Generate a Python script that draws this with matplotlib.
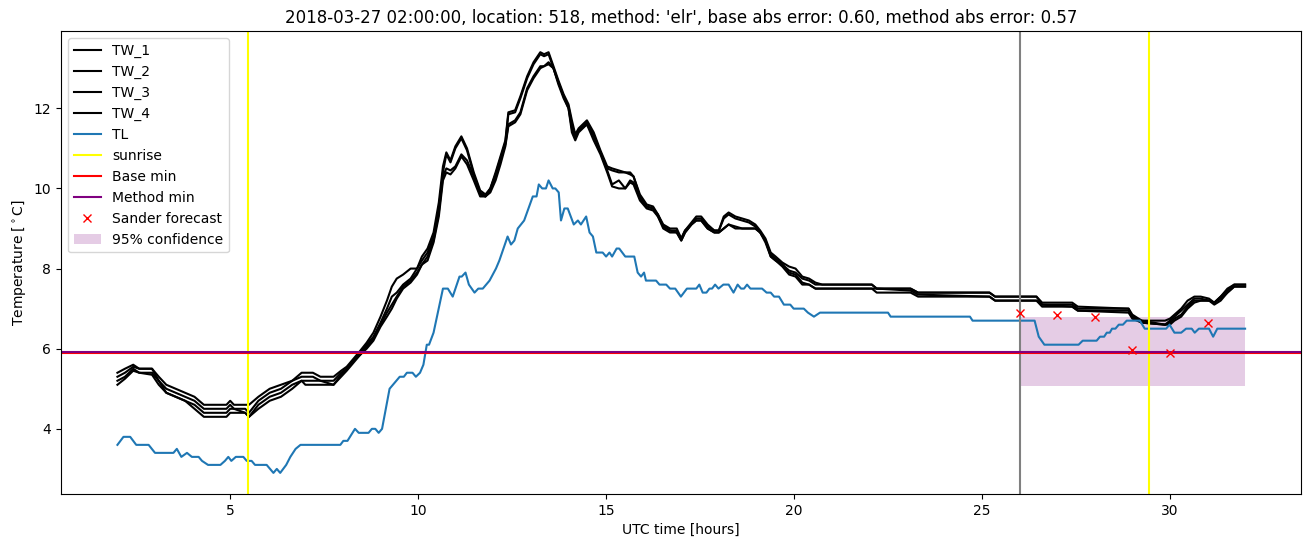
import numpy as np
import matplotlib
matplotlib.use("Agg")
import matplotlib.pyplot as plt

# TL (blue) breakpoints
tl_hours = [2.00, 2.16, 2.34, 2.50, 2.83, 3.00, 3.49, 3.58, 3.70, 3.85, 3.98, 4.16, 4.25, 4.41,
            4.74, 4.86, 4.95, 5.03, 5.15, 5.35, 5.44, 5.57, 5.66, 5.97, 6.15, 6.24, 6.33, 6.49,
            6.60, 6.74, 6.87, 7.93, 8.01, 8.12, 8.32, 8.42, 8.68, 8.77, 8.86, 8.95, 9.04, 9.24,
            9.33, 9.51, 9.62, 9.70, 9.85, 9.94, 10.05, 10.14, 10.23, 10.29, 10.41, 10.66, 10.79,
            10.92, 11.10, 11.16, 11.26, 11.35, 11.50, 11.60, 11.72, 11.90, 12.07, 12.16, 12.38,
            12.47, 12.56, 12.65, 12.82, 13.05, 13.15, 13.21, 13.30, 13.40, 13.47, 13.58, 13.65,
            13.74, 13.80, 13.89, 13.98, 14.14, 14.25, 14.33, 14.47, 14.56, 14.65, 14.74, 14.91,
            15.00, 15.09, 15.16, 15.28, 15.35, 15.51, 15.75, 15.84, 15.93, 16.01, 16.06, 16.33,
            16.42, 16.60, 16.70, 16.84, 16.99, 17.15, 17.40, 17.48, 17.57, 17.67, 17.75, 17.82,
            17.90, 17.99, 18.12, 18.26, 18.39, 18.50, 18.59, 18.67, 18.75, 18.84, 19.15, 19.27,
            19.38, 19.47, 19.60, 19.73, 19.90, 19.99, 20.26, 20.37, 20.53, 20.69, 22.50, 22.57,
            24.68, 24.75, 26.40, 26.51, 26.66, 27.57, 27.68, 28.05, 28.14, 28.25, 28.32, 28.40,
            28.46, 28.55, 28.64, 28.75, 28.85, 29.20, 29.33, 29.90, 29.99, 30.12, 30.30, 30.43,
            30.58, 30.66, 30.77, 31.04, 31.15, 31.26, 32.00]
tl_values = [3.6, 3.8, 3.8, 3.6, 3.6, 3.4, 3.4, 3.5, 3.3, 3.4, 3.3, 3.3, 3.2, 3.1,
             3.1, 3.2, 3.3, 3.2, 3.3, 3.3, 3.2, 3.2, 3.1, 3.1, 2.9, 3.0, 2.9, 3.1,
             3.3, 3.5, 3.6, 3.6, 3.7, 3.7, 4.0, 3.9, 3.9, 4.0, 4.0, 3.9, 4.0, 5.0,
             5.1, 5.3, 5.3, 5.4, 5.4, 5.3, 5.4, 5.6, 6.1, 6.1, 6.4, 7.5, 7.5,
             7.3, 7.8, 7.8, 7.9, 7.6, 7.4, 7.5, 7.5, 7.7, 8.0, 8.2, 8.8,
             8.6, 8.7, 9.0, 9.2, 9.8, 9.8, 10.1, 10.0, 10.0, 10.2, 10.0, 10.0,
             9.9, 9.2, 9.5, 9.5, 9.1, 9.2, 9.1, 9.3, 8.9, 8.8, 8.4, 8.4,
             8.3, 8.4, 8.3, 8.5, 8.5, 8.3, 8.3, 7.9, 7.8, 7.9, 7.7, 7.7,
             7.6, 7.6, 7.5, 7.5, 7.3, 7.5, 7.5, 7.6, 7.4, 7.4, 7.5, 7.5,
             7.6, 7.5, 7.6, 7.6, 7.4, 7.6, 7.5, 7.5, 7.6, 7.5, 7.5, 7.4,
             7.4, 7.3, 7.3, 7.1, 7.1, 7.0, 7.0, 6.9, 6.8, 6.9, 6.9, 6.8,
             6.8, 6.7, 6.7, 6.3, 6.1, 6.1, 6.2, 6.2, 6.3, 6.3, 6.4, 6.4,
             6.5, 6.5, 6.6, 6.6, 6.7, 6.7, 6.5, 6.5, 6.6, 6.4, 6.4, 6.5,
             6.5, 6.4, 6.5, 6.5, 6.3, 6.5, 6.5]

# TW sensors (black), shared breakpoint hours
tw_hours = [2.00, 2.20, 2.42, 2.58, 2.92, 3.10, 3.30, 3.55, 3.80, 4.05, 4.30, 4.60, 4.90, 5.00,
            5.10, 5.40, 5.50, 5.75, 6.05, 6.35, 6.65, 6.90, 7.00, 7.20, 7.40, 7.75, 7.95, 8.10,
            8.28, 8.46, 8.63, 8.81, 9.00, 9.17, 9.30, 9.43, 9.60, 9.80, 9.97, 10.10, 10.25,
            10.41, 10.55, 10.66, 10.75, 10.86, 10.99, 11.15, 11.30, 11.48, 11.65, 11.79, 11.92,
            12.06, 12.19, 12.32, 12.40, 12.58, 12.72, 12.90, 13.07, 13.25, 13.35, 13.47, 13.60,
            13.73, 13.87, 14.00, 14.09, 14.18, 14.27, 14.49, 14.67, 14.85, 15.03, 15.16, 15.34,
            15.51, 15.64, 15.73, 15.90, 16.08, 16.25, 16.38, 16.52, 16.70, 16.88, 17.00, 17.10,
            17.27, 17.40, 17.53, 17.70, 17.88, 18.00, 18.13, 18.26, 18.44, 18.62, 18.80, 18.97,
            19.10, 19.24, 19.38, 19.51, 19.69, 19.87, 20.04, 20.22, 20.40, 20.57, 20.75, 22.07,
            22.20, 23.10, 23.30, 25.20, 25.35, 26.45, 26.60, 27.40, 27.55, 28.90, 29.00, 29.25,
            29.87, 30.00, 30.12, 30.30, 30.47, 30.65, 30.82, 31.04, 31.18, 31.35, 31.53, 31.71,
            32.00]
tw_1 = [5.4, 5.5, 5.6, 5.5, 5.5, 5.3, 5.1, 5.0, 4.9, 4.8, 4.6, 4.6, 4.6, 4.7,
        4.6, 4.6, 4.6, 4.8, 5.0, 5.1, 5.2, 5.4, 5.4, 5.4, 5.3, 5.3, 5.45, 5.55,
        5.75, 5.95, 6.15, 6.4, 6.8, 7.2, 7.55, 7.75, 7.85, 8.0, 8.0, 8.3, 8.5,
        8.9, 9.65, 10.55, 10.9, 10.7, 11.05, 11.3, 11.0, 10.4, 9.95, 9.85, 10.0,
        10.4, 10.8, 11.2, 11.9, 11.95, 12.3, 12.8, 13.15, 13.4, 13.35, 13.4, 13.05,
        12.7, 12.35, 12.1, 11.7, 11.35, 11.5, 11.7, 11.4, 10.95, 10.55, 10.5, 10.45,
        10.4, 10.4, 10.3, 9.85, 9.6, 9.55, 9.35, 9.1, 9.0, 9.0, 8.75, 8.95,
        9.15, 9.3, 9.3, 9.1, 8.95, 8.95, 9.3, 9.4, 9.3, 9.25, 9.2, 9.1,
        8.95, 8.75, 8.4, 8.3, 8.15, 8.05, 8.0, 7.8, 7.75, 7.65, 7.6, 7.6,
        7.5, 7.5, 7.4, 7.4, 7.3, 7.3, 7.15, 7.15, 7.05, 7.0, 6.85, 6.7,
        6.7, 6.75, 6.85, 7.0, 7.2, 7.3, 7.3, 7.25, 7.15, 7.3, 7.5, 7.6,
        7.6]
tw_2 = [5.3, 5.4, 5.55, 5.5, 5.5, 5.2, 5.0, 4.9, 4.8, 4.7, 4.5, 4.5, 4.5, 4.6,
        4.5, 4.5, 4.4, 4.7, 4.9, 5.0, 5.2, 5.3, 5.3, 5.3, 5.2, 5.2, 5.4, 5.5,
        5.7, 5.9, 6.1, 6.3, 6.65, 7.0, 7.3, 7.4, 7.6, 7.75, 8.0, 8.2, 8.4,
        8.8, 9.5, 10.4, 10.85, 10.65, 11.0, 11.25, 10.95, 10.35, 9.9, 9.8, 10.0,
        10.35, 10.75, 11.15, 11.85, 11.9, 12.25, 12.75, 13.1, 13.35, 13.3, 13.35, 13.0,
        12.65, 12.3, 12.05, 11.6, 11.3, 11.45, 11.65, 11.35, 10.9, 10.5, 10.45, 10.4,
        10.4, 10.35, 10.3, 9.8, 9.55, 9.5, 9.35, 9.05, 8.95, 8.95, 8.75, 8.95,
        9.1, 9.25, 9.25, 9.05, 8.95, 8.95, 9.25, 9.35, 9.25, 9.2, 9.15, 9.05,
        8.9, 8.7, 8.35, 8.25, 8.1, 7.95, 7.9, 7.75, 7.7, 7.6, 7.6, 7.6,
        7.5, 7.5, 7.4, 7.4, 7.3, 7.3, 7.1, 7.1, 7.0, 7.0, 6.8, 6.7,
        6.6, 6.7, 6.8, 6.95, 7.1, 7.25, 7.25, 7.2, 7.15, 7.3, 7.45, 7.6,
        7.6]
tw_3 = [5.2, 5.3, 5.5, 5.4, 5.4, 5.2, 4.9, 4.8, 4.7, 4.6, 4.4, 4.4, 4.4, 4.5,
        4.5, 4.4, 4.3, 4.6, 4.8, 4.9, 5.1, 5.2, 5.2, 5.2, 5.2, 5.1, 5.35, 5.5,
        5.7, 5.85, 6.05, 6.25, 6.6, 6.9, 7.1, 7.3, 7.55, 7.7, 7.9, 8.1, 8.3,
        8.7, 9.4, 10.3, 10.5, 10.45, 10.55, 10.85, 10.7, 10.3, 9.85, 9.8, 9.95,
        10.3, 10.7, 11.1, 11.6, 11.7, 11.9, 12.5, 12.8, 13.05, 13.05, 13.1, 13.0,
        12.65, 12.3, 12.0, 11.5, 11.25, 11.45, 11.6, 11.3, 10.9, 10.45, 10.1, 10.2,
        10.0, 10.2, 10.15, 9.75, 9.55, 9.5, 9.3, 9.05, 8.95, 8.9, 8.7, 8.9,
        9.1, 9.2, 9.2, 9.0, 8.9, 8.9, 9.0, 9.1, 9.05, 9.0, 9.0, 9.0,
        8.9, 8.7, 8.3, 8.2, 8.1, 7.9, 7.85, 7.65, 7.6, 7.5, 7.5, 7.5,
        7.5, 7.45, 7.35, 7.3, 7.2, 7.2, 7.1, 7.05, 6.95, 6.95, 6.8, 6.65,
        6.6, 6.65, 6.75, 6.85, 7.05, 7.2, 7.2, 7.2, 7.15, 7.25, 7.4, 7.55,
        7.55]
tw_4 = [5.1, 5.25, 5.45, 5.4, 5.35, 5.1, 4.9, 4.8, 4.7, 4.5, 4.3, 4.3, 4.3, 4.4,
        4.4, 4.4, 4.3, 4.5, 4.7, 4.8, 5.0, 5.2, 5.1, 5.1, 5.1, 5.1, 5.3, 5.45,
        5.65, 5.85, 6.0, 6.2, 6.55, 6.8, 7.0, 7.25, 7.5, 7.65, 7.85, 8.1, 8.2,
        8.65, 9.3, 10.2, 10.4, 10.35, 10.5, 10.8, 10.6, 10.2, 9.8, 9.8, 9.9,
        10.2, 10.6, 11.05, 11.55, 11.65, 11.85, 12.45, 12.75, 13.0, 13.05, 13.15, 13.0,
        12.6, 12.25, 12.0, 11.4, 11.2, 11.4, 11.6, 11.2, 10.85, 10.4, 10.05, 10.0,
        10.0, 10.15, 10.1, 9.7, 9.5, 9.45, 9.3, 9.0, 8.9, 8.9, 8.7, 8.9,
        9.1, 9.2, 9.2, 9.0, 8.9, 8.9, 9.0, 9.1, 9.0, 9.0, 9.0, 9.0,
        8.9, 8.65, 8.3, 8.2, 8.05, 7.85, 7.8, 7.6, 7.6, 7.5, 7.5, 7.5,
        7.4, 7.4, 7.3, 7.3, 7.2, 7.2, 7.05, 7.05, 6.95, 6.9, 6.75, 6.65,
        6.6, 6.6, 6.7, 6.8, 7.0, 7.15, 7.2, 7.2, 7.1, 7.2, 7.4, 7.55,
        7.55]

sunrise_hours = [5.47, 29.44]
forecast_start = 26.0
forecast_end = 32.0
base_min = 5.90
method_min = 5.93
conf_low = 5.08
conf_high = 6.78
sander_hours = [26, 27, 28, 29, 30, 31]
sander_values = [6.89, 6.83, 6.79, 5.97, 5.89, 6.64]

fig = plt.figure(figsize=(13.1, 5.47), dpi=100)
ax = fig.add_subplot(111)
fig.subplots_adjust(left=0.0466, right=0.9935, bottom=0.097, top=0.943)

for i, tw in enumerate([tw_1, tw_2, tw_3, tw_4]):
    ax.plot(tw_hours, tw, color="black", label=f"TW_{i + 1}")
ax.plot(tl_hours, tl_values, color="C0", label="TL")

ax.axvline(sunrise_hours[0], color="yellow", label="sunrise")
ax.axvline(sunrise_hours[1], color="yellow")
ax.axvline(forecast_start, color="gray")

ax.axhline(base_min, color="red", label="Base min")
ax.axhline(method_min, color="purple", label="Method min")
ax.plot(sander_hours, sander_values, "rx", label="Sander forecast")
ax.fill_between([forecast_start, forecast_end], conf_low, conf_high,
                color="purple", alpha=0.2, linewidth=0, label="95% confidence")

ax.set_title("2018-03-27 02:00:00, location: 518, method: 'elr', "
             "base abs error: 0.60, method abs error: 0.57")
ax.set_xlabel("UTC time [hours]")
ax.set_ylabel(r"Temperature [$^\circ$C]")
ax.legend(loc="upper left")

fig.savefig("out.png", dpi=100)
